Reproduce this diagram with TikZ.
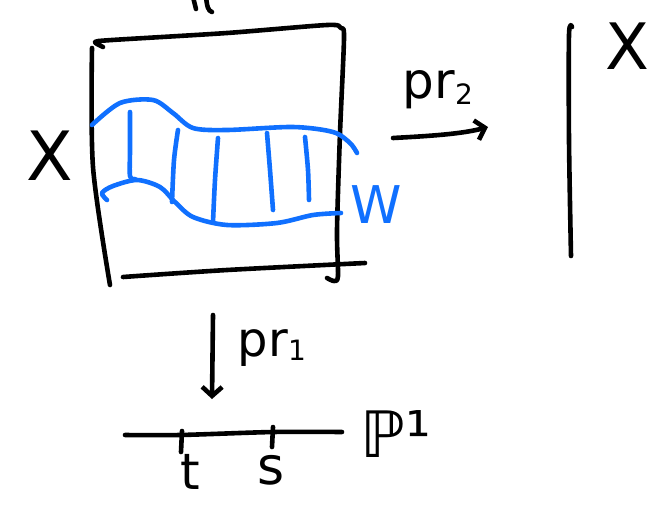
\documentclass[tikz,border=0pt]{standalone}
\usepackage{fontspec}
\setmainfont{DejaVu Sans}
\usetikzlibrary{arrows.meta}
\definecolor{bluepen}{RGB}{16,112,255}
\tikzset{
  ink/.style={line width=4.6pt, line cap=round, line join=round, draw=black},
  blueink/.style={ink, draw=bluepen},
  lbl/.style={inner sep=0pt, anchor=center},
  arr/.style={ink, -{Straight Barb[length=9pt,width=20pt]}}
}
\begin{document}
\begin{tikzpicture}[x=1pt,y=-1pt]
\useasboundingbox (0,0) rectangle (662,504);
% clipped label at top
\draw[ink] (193,-3) -- (196,9);
\draw[ink] (206,-3) .. controls (207,6) and (208,11) .. (212,12);
% box X x P^1
\draw[ink] plot[smooth, tension=0.45] coordinates {(103,47) (95,42) (112,40) (227,33) (327,25) (341,28) (344,38) (340,133) (337,230) (338,276) (334,281) (327,278)};
\draw[ink] plot[smooth, tension=0.5] coordinates {(92,48) (93,167) (110,285)};
\draw[ink] plot[smooth, tension=0.5] coordinates {(123,277) (227,270) (365,263)};
% W (blue)
\draw[blueink] plot[smooth, tension=0.5] coordinates {(92,125) (120,103) (153,100) (173,113) (193,128) (227,130) (293,127) (333,132) (350,143) (357,153)};
\draw[blueink] plot[smooth, tension=0.5] coordinates {(107,200) (102,193) (113,186) (137,180) (160,187) (175,202) (193,217) (227,225) (277,223) (313,215) (341,213)};
\draw[blueink] plot[smooth, tension=0.5] coordinates {(130,112) (130,150) (130,176) (135,179)};
\draw[blueink] plot[smooth, tension=0.5] coordinates {(178,130) (174,160) (172,202)};
\draw[blueink] plot[smooth, tension=0.5] coordinates {(218,138) (215,180) (213,222)};
\draw[blueink] plot[smooth, tension=0.5] coordinates {(267,133) (270,170) (273,210)};
\draw[blueink] plot[smooth, tension=0.5] coordinates {(305,137) (308,170) (309,200)};
% X on the right
\draw[ink] plot[smooth, tension=0.5] coordinates {(572,27) (569,35) (569,140) (571,256)};
% P^1 line
\coordinate (l0) at (125,435);
\coordinate (l1) at (342,432);
\draw[ink] plot[smooth, tension=0.5] coordinates {(l0) (180,435) (273,432) (l1)};
\coordinate (tt) at (182,431);
\coordinate (tb) at (181,452);
\coordinate (st) at (273,427);
\coordinate (sb) at (272,447);
\draw[ink] (tt) -- (tb);
\draw[ink] (st) -- (sb);
% arrows
\coordinate (p2s) at (393,138);
\coordinate (p2e) at (488,127);
\draw[arr] (p2s) .. controls (430,136) and (462,134) .. (p2e);
\coordinate (p1s) at (213,315);
\coordinate (p1e) at (212,399);
\draw[arr] (p1s) -- (p1e);
% labels
\node[lbl] (Xl) at (50,156) {\fontsize{68}{68}\selectfont X};
\node[lbl] (Xr) at (627,46) {\fontsize{64}{64}\selectfont X};
\node[lbl] (pr2) at (438,90) {\fontsize{50}{50}\selectfont pr\raisebox{-6pt}{\fontsize{28}{28}\selectfont 2}};
\node[lbl, text=bluepen] (Wl) at (376,205) {\fontsize{52}{52}\selectfont W};
\node[lbl] (pr1) at (272,348) {\fontsize{48}{48}\selectfont pr\raisebox{-4pt}{\fontsize{28}{28}\selectfont 1}};
\node[lbl] (tl) at (190,472) {\fontsize{50}{50}\selectfont t};
\node[lbl] (sl) at (271,470) {\fontsize{52}{52}\selectfont s};
\node[lbl] (P1) at (396,434) {\fontsize{64}{64}\selectfont ℙ¹};
\end{tikzpicture}
\end{document}
